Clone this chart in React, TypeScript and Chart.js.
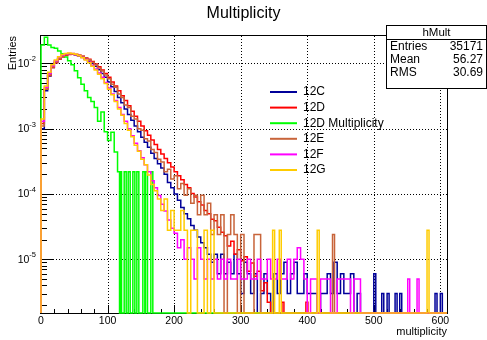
import { useEffect, useRef } from "react";
import { Chart, registerables } from "chart.js";

Chart.register(...registerables);

// ---------- axis ranges / ticks ----------
const X_MIN = 0;
const X_MAX = 610;
const Y_MIN = 1.51e-6;
const Y_MAX = 0.0262;
const BIN_WIDTH = 5;
const SPIKE_WIDTH = 3;
const xMajorTicks = [0, 100, 200, 300, 400, 500, 600];
const yDecadeExponents = [-5, -4, -3, -2];

// ---------- series ----------
const seriesNames = ["12C", "12D", "12D Multiplicity", "12E", "12F", "12G"];
const seriesColors = ["#000099", "#ff0000", "#00ff00", "#c8643a", "#ff00ff", "#ffcc00"];

// values per 5-unit bin starting at x = 0
const body12C = [
  1.0e-3, 3.8e-3, 6.4e-3, 8.6e-3, 1.03e-2, 1.17e-2, 1.28e-2, 1.35e-2, 1.38e-2, 1.38e-2,
  1.35e-2, 1.3e-2, 1.24e-2, 1.16e-2, 1.08e-2, 9.9e-3, 9.0e-3, 8.0e-3, 7.0e-3, 6.1e-3,
  5.2e-3, 4.4e-3, 3.7e-3, 3.0e-3, 2.5e-3, 2.0e-3, 1.65e-3, 1.35e-3, 1.1e-3, 9.0e-4,
  7.4e-4, 6.2e-4, 5.2e-4, 4.2e-4, 3.5e-4, 2.9e-4, 2.5e-4, 2.0e-4, 1.5e-4, 1.25e-4,
  1.0e-4, 8.0e-5, 6.2e-5, 5.0e-5, 4.2e-5, 3.3e-5, 2.8e-5, 2.2e-5, 1.8e-5, 1.5e-5,
  1.2e-5, 9e-6, 1.2e-5, 6e-6, 1.2e-5, 6e-6, 9e-6, 6e-6, 1.2e-5, 6e-6,
  3e-6, 9e-6, 6e-6, 3e-6, 6e-6, 0, 3e-6, 6e-6, 3e-6, 0,
  6e-6, 3e-6, 6e-6, 9e-6, 3e-6, 6e-6, 9e-6, 3e-6, 3e-6, 6e-6,
  3e-6, 3e-6, 3e-6, 0, 3e-6, 3e-6, 6e-6, 3e-6, 9e-6, 3e-6,
  6e-6, 3e-6, 3e-6, 6e-6, 0, 3e-6,
];
const tail12CX = [500, 512, 520, 532, 539, 592, 600];
const tail12CY = [6e-6, 3e-6, 3e-6, 3e-6, 3e-6, 3e-6, 3e-6];

const body12D = [
  1.2e-3, 4.0e-3, 6.5e-3, 8.6e-3, 1.02e-2, 1.15e-2, 1.25e-2, 1.32e-2, 1.36e-2, 1.38e-2,
  1.36e-2, 1.33e-2, 1.28e-2, 1.22e-2, 1.15e-2, 1.07e-2, 9.8e-3, 8.9e-3, 7.9e-3, 7.0e-3,
  6.1e-3, 5.2e-3, 4.5e-3, 3.8e-3, 3.2e-3, 2.7e-3, 2.25e-3, 1.85e-3, 1.55e-3, 1.3e-3,
  1.1e-3, 9.3e-4, 7.9e-4, 6.7e-4, 5.7e-4, 4.8e-4, 4.1e-4, 3.5e-4, 3.0e-4, 2.6e-4,
  2.2e-4, 1.9e-4, 1.65e-4, 1.4e-4, 1.25e-4, 1.02e-4, 9.0e-5, 7.6e-5, 6.8e-5, 5.6e-5,
  5.0e-5, 4.1e-5, 3.9e-5, 3.1e-5, 2.6e-5, 2.3e-5, 1.6e-5, 1.9e-5, 1.2e-5, 1.4e-5,
  9.5e-6, 1.1e-5, 6.6e-6, 8.8e-6, 5.5e-6, 6.6e-6, 3.3e-6, 4.4e-6, 2.2e-6,
];
const tail12DX = [362, 398];
const tail12DY = [2.2e-6, 2.2e-6];

const body12DMult = [
  1.9e-2, 2.5e-2, 1.9e-2, 1.75e-2, 1.7e-2, 1.55e-2, 1.4e-2, 1.25e-2, 1.1e-2, 9.5e-3,
  7.7e-3, 6.0e-3, 4.8e-3, 3.8e-3, 3.0e-3, 2.6e-3, 2.1e-3, 1.3e-3, 1.8e-3, 9e-4,
  6.6e-4, 8.8e-4, 4.4e-4, 2.2e-4,
];
const tail12DMultX = [118, 125, 131, 138, 144, 153, 157, 165];
const tail12DMultY = [2.2e-4, 2.2e-4, 2.2e-4, 2.2e-4, 2.2e-4, 2.2e-4, 2.2e-4, 2.2e-4];

const body12E = [
  1.1e-3, 4.0e-3, 6.6e-3, 8.8e-3, 1.05e-2, 1.18e-2, 1.28e-2, 1.35e-2, 1.38e-2, 1.39e-2,
  1.37e-2, 1.33e-2, 1.28e-2, 1.21e-2, 1.13e-2, 1.04e-2, 9.5e-3, 8.5e-3, 7.6e-3, 6.6e-3,
  5.8e-3, 4.8e-3, 4.3e-3, 3.4e-3, 3.0e-3, 2.3e-3, 2.1e-3, 1.55e-3, 1.4e-3, 1.0e-3,
  9.5e-4, 7.0e-4, 6.5e-4, 4.8e-4, 4.3e-4, 3.4e-4, 3.1e-4, 2.2e-4, 2.4e-4, 1.7e-4,
  1.9e-4, 1.2e-4, 1.45e-4, 9.6e-5, 1.2e-4, 7.2e-5, 9.6e-5, 4.8e-5, 9.6e-5, 4.8e-5,
  7.2e-5, 2.4e-5, 4.8e-5, 2.4e-5, 4.8e-5, 0, 2.4e-5, 4.8e-5, 2.4e-5, 0,
  2.4e-5, 0, 0, 0, 2.4e-5, 2.4e-5,
];
const tail12EX = [438];
const tail12EY = [2.4e-5];

const body12F = [
  1.3e-3, 4.3e-3, 7.0e-3, 9.2e-3, 1.1e-2, 1.24e-2, 1.34e-2, 1.4e-2, 1.42e-2, 1.41e-2,
  1.37e-2, 1.31e-2, 1.23e-2, 1.14e-2, 1.04e-2, 9.3e-3, 8.2e-3, 7.1e-3, 6.1e-3, 5.1e-3,
  4.2e-3, 3.4e-3, 2.7e-3, 2.1e-3, 1.65e-3, 1.3e-3, 1.0e-3, 7.8e-4, 6.0e-4, 4.6e-4,
  3.6e-4, 2.8e-4, 2.2e-4, 1.6e-4, 1.25e-4, 9.5e-5, 7.0e-5, 5.5e-5, 4.0e-5, 3.0e-5,
  2.5e-5, 1.5e-5, 2.0e-5, 1.0e-5, 1.5e-5, 1.0e-5, 5e-6, 1.5e-5, 1.0e-5, 5e-6,
  1.0e-5, 5e-6, 1.0e-5, 5e-6, 1.0e-5, 5e-6, 1.0e-5, 5e-6, 5e-6, 1.0e-5,
  5e-6, 5e-6, 1.0e-5, 5e-6, 5e-6, 1.0e-5, 5e-6, 5e-6, 1.0e-5, 5e-6,
  5e-6, 1.0e-5, 5e-6, 5e-6, 1.0e-5, 5e-6, 1.0e-5, 1.5e-5, 1.0e-5, 5e-6,
  0, 5e-6, 5e-6, 0, 5e-6, 5e-6, 5e-6, 0, 0, 5e-6,
  5e-6, 5e-6, 5e-6, 0, 5e-6, 5e-6,
];
const tail12FX = [551, 565];
const tail12FY = [5e-6, 5e-6];

const body12G = [
  1.4e-3, 4.5e-3, 7.3e-3, 9.5e-3, 1.12e-2, 1.26e-2, 1.36e-2, 1.42e-2, 1.44e-2, 1.42e-2,
  1.38e-2, 1.31e-2, 1.22e-2, 1.12e-2, 1.02e-2, 9.0e-3, 7.9e-3, 6.8e-3, 5.8e-3, 4.9e-3,
  4.0e-3, 3.3e-3, 2.6e-3, 2.0e-3, 1.6e-3, 1.2e-3, 9.5e-4, 7.5e-4, 5.6e-4, 4.5e-4,
  3.4e-4, 2.8e-4, 1.96e-4, 1.4e-4, 1.12e-4, 8.4e-5, 5.6e-5, 8.4e-5, 2.8e-5, 5.6e-5,
  2.8e-5, 2.8e-5, 5.6e-5, 2.8e-5, 0, 2.8e-5, 2.8e-5, 0, 0, 2.8e-5,
  0, 2.8e-5,
];
const tail12GX = [348, 358, 415, 580];
const tail12GY = [2.8e-5, 2.8e-5, 2.8e-5, 2.8e-5];

const bodies = [body12C, body12D, body12DMult, body12E, body12F, body12G];
const tailXs = [tail12CX, tail12DX, tail12DMultX, tail12EX, tail12FX, tail12GX];
const tailYs = [tail12CY, tail12DY, tail12DMultY, tail12EY, tail12FY, tail12GY];

// ---------- stats box ----------
const statsTitle = "hMult";
const statsLabels = ["Entries", "Mean", "RMS"];
const statsValues = ["35171", "56.27", "30.69"];

const FONT = '"Liberation Sans", Arial, Helvetica, sans-serif';

function histPoints(body: number[], tx: number[], ty: number[]) {
  const pts: { x: number; y: number }[] = [{ x: X_MIN, y: Y_MIN }];
  body.forEach((v, i) => {
    const y = v > 0 ? v : Y_MIN;
    pts.push({ x: i * BIN_WIDTH, y });
    pts.push({ x: (i + 1) * BIN_WIDTH, y });
  });
  pts.push({ x: body.length * BIN_WIDTH, y: Y_MIN });
  tx.forEach((x, i) => {
    pts.push({ x, y: Y_MIN });
    pts.push({ x, y: ty[i] });
    pts.push({ x: x + SPIKE_WIDTH, y: ty[i] });
    pts.push({ x: x + SPIKE_WIDTH, y: Y_MIN });
  });
  pts.push({ x: X_MAX, y: Y_MIN });
  return pts;
}

const rootPlugin = {
  id: "rootStyle",
  beforeDatasetsDraw(chart: any) {
    const { ctx, chartArea: a, scales } = chart;
    const xs = scales.x;
    const ys = scales.y;
    ctx.save();
    ctx.strokeStyle = "#000";
    ctx.lineWidth = 1;
    // dotted grid
    ctx.setLineDash([1, 2]);
    ctx.beginPath();
    xMajorTicks.forEach((v) => {
      if (v === X_MIN) return;
      const px = Math.round(xs.getPixelForValue(v)) + 0.5;
      ctx.moveTo(px, a.top);
      ctx.lineTo(px, a.bottom);
    });
    yDecadeExponents.forEach((e) => {
      const py = Math.round(ys.getPixelForValue(Math.pow(10, e))) + 0.5;
      ctx.moveTo(a.left, py);
      ctx.lineTo(a.right, py);
    });
    ctx.stroke();
    ctx.setLineDash([]);
    // frame
    ctx.strokeRect(a.left - 0.5, a.top - 0.5, a.right - a.left + 1, a.bottom - a.top + 1);
    // x ticks
    ctx.beginPath();
    for (let v = 0; v <= 600; v += 20) {
      const px = Math.round(xs.getPixelForValue(v)) + 0.5;
      const len = v % 100 === 0 ? 8 : 4;
      ctx.moveTo(px, a.bottom);
      ctx.lineTo(px, a.bottom - len);
    }
    // y ticks (log)
    for (let e = -6; e <= -2; e++) {
      for (let m = 1; m <= 9; m++) {
        const v = m * Math.pow(10, e);
        if (v < Y_MIN || v > Y_MAX) continue;
        const py = Math.round(ys.getPixelForValue(v)) + 0.5;
        const len = m === 1 ? 12 : 6;
        ctx.moveTo(a.left, py);
        ctx.lineTo(a.left + len, py);
      }
    }
    ctx.stroke();
    ctx.restore();
  },
  afterDraw(chart: any) {
    const { ctx, chartArea: a, scales, width } = chart;
    const xs = scales.x;
    const ys = scales.y;
    ctx.save();
    ctx.fillStyle = "#000";
    // x tick labels
    ctx.font = `10.5px ${FONT}`;
    ctx.textAlign = "center";
    ctx.textBaseline = "middle";
    xMajorTicks.forEach((v) => {
      ctx.fillText(String(v), xs.getPixelForValue(v), a.bottom + 8);
    });
    // y tick labels 10^e
    yDecadeExponents.forEach((e) => {
      const py = ys.getPixelForValue(Math.pow(10, e));
      const sup = String(e);
      ctx.font = `7.5px ${FONT}`;
      const w2 = ctx.measureText(sup).width;
      ctx.font = `10.5px ${FONT}`;
      const w1 = ctx.measureText("10").width;
      const x0 = 36 - w2 - w1;
      ctx.textAlign = "left";
      ctx.fillText("10", x0, py + 0.5);
      ctx.font = `7.5px ${FONT}`;
      ctx.fillText(sup, x0 + w1, py - 4);
    });
    // title
    ctx.font = `16px ${FONT}`;
    ctx.textAlign = "center";
    ctx.fillText("Multiplicity", width / 2, 14);
    // axis titles
    ctx.font = `11px ${FONT}`;
    ctx.textAlign = "right";
    ctx.fillText("multiplicity", a.right, 332);
    ctx.save();
    ctx.translate(13, a.top);
    ctx.rotate(-Math.PI / 2);
    ctx.textAlign = "right";
    ctx.fillText("Entries", 0, 0);
    ctx.restore();
    // legend (transparent)
    seriesNames.forEach((name, i) => {
      const y = 92 + i * 15.6;
      ctx.strokeStyle = seriesColors[i];
      ctx.lineWidth = 2;
      ctx.beginPath();
      ctx.moveTo(270, y);
      ctx.lineTo(297, y);
      ctx.stroke();
      ctx.fillStyle = "#000";
      ctx.font = `12px ${FONT}`;
      ctx.textAlign = "left";
      ctx.fillText(name, 303, y);
    });
    // stats box
    const bx = 386.5, by = 25.5, bw = 100, bh = 63;
    ctx.fillStyle = "#fff";
    ctx.fillRect(bx, by, bw, bh);
    ctx.strokeStyle = "#000";
    ctx.lineWidth = 1;
    ctx.strokeRect(bx, by, bw, bh);
    ctx.beginPath();
    ctx.moveTo(bx, 39.5);
    ctx.lineTo(bx + bw, 39.5);
    ctx.stroke();
    ctx.fillStyle = "#000";
    ctx.font = `11.5px ${FONT}`;
    ctx.textAlign = "center";
    ctx.fillText(statsTitle, bx + bw / 2, 32.5);
    ctx.font = `12px ${FONT}`;
    statsLabels.forEach((lab, i) => {
      const y = 46.5 + i * 13.3;
      ctx.textAlign = "left";
      ctx.fillText(lab, 390, y);
      ctx.textAlign = "right";
      ctx.fillText(statsValues[i], 483, y);
    });
    ctx.restore();
  },
};

export default function App() {
  const ref = useRef<HTMLCanvasElement | null>(null);
  useEffect(() => {
    if (!ref.current) return;
    const datasets = seriesNames.map((name, i) => ({
      label: name,
      data: histPoints(bodies[i], tailXs[i], tailYs[i]),
      borderColor: seriesColors[i],
      backgroundColor: seriesColors[i],
      borderWidth: 1.5,
      pointRadius: 0,
      tension: 0,
      fill: false,
      order: seriesNames.length - 1 - i,
      clip: { left: 1, top: 0, right: 0, bottom: 1 },
    }));
    const chart = new Chart(ref.current, {
      type: "line",
      data: { datasets },
      options: {
        animation: false,
        responsive: false,
        parsing: true,
        layout: { padding: { left: 41, right: 40, top: 36, bottom: 27 } },
        scales: {
          x: { type: "linear", min: X_MIN, max: X_MAX, display: false },
          y: { type: "logarithmic", min: Y_MIN, max: Y_MAX, display: false },
        },
        plugins: {
          legend: { display: false },
          tooltip: { enabled: false },
          title: { display: false },
        },
      },
      plugins: [rootPlugin],
    } as any);
    return () => chart.destroy();
  }, []);
  return (
    <div style={{ position: "absolute", left: 0, top: 0, width: 487, height: 340, background: "#fff" }}>
      <canvas ref={ref} width={487} height={340} style={{ display: "block", width: 487, height: 340 }} />
    </div>
  );
}
